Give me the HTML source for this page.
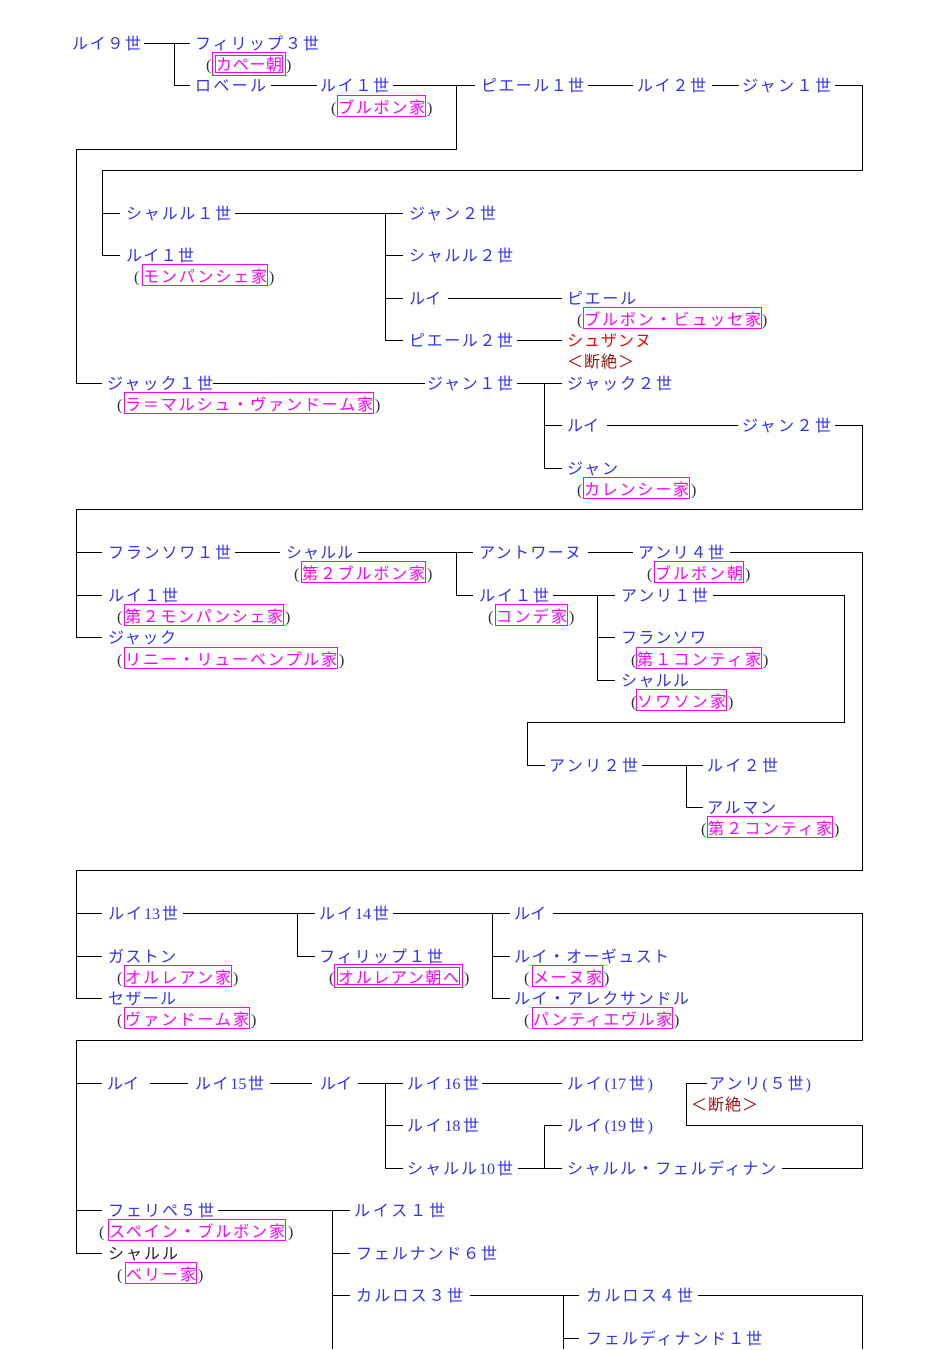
<!DOCTYPE html>
<html><head><meta charset="utf-8">
<style>
html,body{margin:0;padding:0;background:#fff;}
body{width:925px;height:1349px;position:relative;overflow:hidden;}
svg{position:absolute;left:0;top:0;}
.t{position:absolute;white-space:nowrap;font-family:"Liberation Serif","Noto Sans CJK JP",sans-serif;font-size:16px;line-height:20px;height:20px;text-align:justify;text-align-last:justify;color:#3232f0;margin-top:1px;}
.m{color:#ff00ff;}
.r{color:#ff0000;}
.d{color:#991111;}
.k{color:#222;}
.p{position:absolute;white-space:nowrap;font-family:"Liberation Serif",serif;font-size:16px;line-height:20px;color:#333;margin-top:1px;}
.b{position:absolute;box-sizing:border-box;height:22px;border:1px solid #ff00ff;}
.b2{position:absolute;box-sizing:border-box;height:24px;border:1px solid #ff00ff;padding:2px;}
.b2 div{width:100%;height:100%;box-sizing:border-box;border:1px solid #ff00ff;}
</style></head><body>
<svg width="925" height="1349" viewBox="0 0 925 1349" shape-rendering="crispEdges">
<path fill="none" stroke="#000" stroke-width="1" d="
M144 43.5H190 M174.5 43V86 M174 85.5H190 M271 85.5H317 M393 85.5H475 M456.5 85V150 M76 149.5H457
M588 85.5H633 M712 85.5H739 M835 85.5H863 M862.5 85V171 M102 170.5H863 M102.5 170V256
M102 213.5H120 M102 255.5H120 M76.5 149V384 M76 383.5H102
M235 213.5H403 M385.5 213V341 M385 255.5H403 M385 298.5H403 M385 340.5H403
M448 298.5H562 M517 340.5H562 M213 383.5H425 M517 383.5H562 M544.5 383V469
M544 425.5H562 M544 468.5H562 M607 425.5H738 M835 425.5H863 M862.5 425V510 M76 509.5H863
M76.5 509V638 M76 552.5H102 M76 595.5H102 M76 637.5H102 M235 552.5H280 M358 552.5H473
M456.5 552V596 M456 595.5H473 M588 552.5H633 M730 552.5H863 M862.5 552V871
M553 595.5H615 M597.5 595V681 M597 637.5H615 M597 680.5H615 M713 595.5H844 M844.5 595V723
M527 722.5H845 M527.5 722V766 M527 765.5H545 M642 765.5H703 M686.5 765V808 M686 807.5H703
M76 870.5H863
M76.5 870V999 M76 913.5H102 M76 956.5H102 M76 998.5H102 M183 913.5H315 M297.5 913V957
M297 956.5H315 M393 913.5H510 M492.5 913V999 M492 956.5H510 M492 998.5H510 M553 913.5H863
M862.5 913V1041 M76 1040.5H863
M76.5 1040V1254 M76 1083.5H102 M76 1210.5H102 M76 1253.5H102 M150 1083.5H188 M270 1083.5H312
M358 1083.5H403 M385.5 1083V1169 M385 1125.5H403 M385 1168.5H403 M482 1083.5H562
M686 1083.5H707 M686.5 1083V1126 M686 1125.5H863 M862.5 1125V1169 M782 1168.5H863
M518 1168.5H562 M544.5 1125V1169 M544 1125.5H562
M218 1210.5H333 M332.5 1210V1349 M332 1210.5H350 M332 1253.5H350 M332 1295.5H350
M470 1295.5H579 M563.5 1295V1349 M563 1338.5H579 M698 1295.5H863 M862.5 1295V1349"/>
</svg>

<!-- blue names -->
<div class="t" style="left:72px;top:34px;width:69px">ルイ９世</div>
<div class="t" style="left:195px;top:34px;width:124px">フィリップ３世</div>
<div class="t" style="left:195px;top:76px;width:71px">ロベール</div>
<div class="t" style="left:320px;top:76px;width:69px">ルイ１世</div>
<div class="t" style="left:481px;top:76px;width:103px">ピエール１世</div>
<div class="t" style="left:637px;top:76px;width:69px">ルイ２世</div>
<div class="t" style="left:742px;top:76px;width:89px">ジャン１世</div>

<div class="t" style="left:126px;top:204px;width:105px">シャルル１世</div>
<div class="t" style="left:126px;top:246px;width:68px">ルイ１世</div>
<div class="t" style="left:409px;top:204px;width:87px">ジャン２世</div>
<div class="t" style="left:409px;top:246px;width:104px">シャルル２世</div>
<div class="t" style="left:409px;top:289px;width:32px">ルイ</div>
<div class="t" style="left:567px;top:289px;width:69px">ピエール</div>
<div class="t" style="left:409px;top:331px;width:104px">ピエール２世</div>
<div class="t r" style="left:567px;top:331px;width:84px">シュザンヌ</div>
<div class="t d" style="left:567px;top:352px;width:67px">＜断絶＞</div>
<div class="t" style="left:107px;top:374px;width:106px">ジャック１世</div>
<div class="t" style="left:427px;top:374px;width:86px">ジャン１世</div>
<div class="t" style="left:567px;top:374px;width:105px">ジャック２世</div>
<div class="t" style="left:567px;top:416px;width:32px">ルイ</div>
<div class="t" style="left:742px;top:416px;width:89px">ジャン２世</div>
<div class="t" style="left:567px;top:459px;width:51px">ジャン</div>

<div class="t" style="left:108px;top:543px;width:123px">フランソワ１世</div>
<div class="t" style="left:286px;top:543px;width:67px">シャルル</div>
<div class="t" style="left:108px;top:586px;width:70px">ルイ１世</div>
<div class="t" style="left:108px;top:628px;width:68px">ジャック</div>
<div class="t" style="left:479px;top:543px;width:102px">アントワーヌ</div>
<div class="t" style="left:638px;top:543px;width:86px">アンリ４世</div>
<div class="t" style="left:479px;top:586px;width:70px">ルイ１世</div>
<div class="t" style="left:621px;top:586px;width:87px">アンリ１世</div>
<div class="t" style="left:621px;top:628px;width:85px">フランソワ</div>
<div class="t" style="left:621px;top:671px;width:68px">シャルル</div>
<div class="t" style="left:549px;top:756px;width:89px">アンリ２世</div>
<div class="t" style="left:707px;top:756px;width:71px">ルイ２世</div>
<div class="t" style="left:707px;top:798px;width:69px">アルマン</div>

<div class="t" style="left:108px;top:904px;width:70px">ルイ13世</div>
<div class="t" style="left:319px;top:904px;width:70px">ルイ14世</div>
<div class="t" style="left:108px;top:947px;width:68px">ガストン</div>
<div class="t" style="left:108px;top:989px;width:68px">セザール</div>
<div class="t" style="left:319px;top:947px;width:124px">フィリップ１世</div>
<div class="t" style="left:514px;top:904px;width:32px">ルイ</div>
<div class="t" style="left:514px;top:947px;width:155px">ルイ・オーギュスト</div>
<div class="t" style="left:514px;top:989px;width:175px">ルイ・アレクサンドル</div>

<div class="t" style="left:107px;top:1074px;width:32px">ルイ</div>
<div class="t" style="left:195px;top:1074px;width:69px">ルイ15世</div>
<div class="t" style="left:320px;top:1074px;width:32px">ルイ</div>
<div class="t" style="left:407px;top:1074px;width:72px">ルイ16世</div>
<div class="t" style="left:567px;top:1074px;width:86px">ルイ(17世)</div>
<div class="t" style="left:709px;top:1074px;width:102px">アンリ(５世)</div>
<div class="t d" style="left:691px;top:1095px;width:67px">＜断絶＞</div>
<div class="t" style="left:407px;top:1116px;width:72px">ルイ18世</div>
<div class="t" style="left:407px;top:1159px;width:106px">シャルル10世</div>
<div class="t" style="left:567px;top:1116px;width:86px">ルイ(19世)</div>
<div class="t" style="left:567px;top:1159px;width:209px">シャルル・フェルディナン</div>
<div class="t" style="left:108px;top:1201px;width:106px">フェリペ５世</div>
<div class="t k" style="left:108px;top:1244px;width:70px">シャルル</div>
<div class="t" style="left:354px;top:1201px;width:91px">ルイス１世</div>
<div class="t" style="left:356px;top:1244px;width:141px">フェルナンド６世</div>
<div class="t" style="left:356px;top:1286px;width:107px">カルロス３世</div>
<div class="t" style="left:586px;top:1286px;width:107px">カルロス４世</div>
<div class="t" style="left:586px;top:1329px;width:176px">フェルディナンド１世</div>

<!-- magenta houses -->
<div class="p" style="left:206px;top:55px">(</div><div class="b2" style="left:212px;top:52px;width:74px"><div></div></div><div class="t m" style="left:216px;top:55px;width:66px">カペー朝</div><div class="p" style="left:286px;top:55px">)</div>

<div class="p" style="left:331px;top:98px">(</div><div class="b" style="left:337px;top:95px;width:89px"></div><div class="t m" style="left:338px;top:98px;width:87px">ブルボン家</div><div class="p" style="left:427px;top:98px">)</div>

<div class="p" style="left:134px;top:267px">(</div><div class="b" style="left:142px;top:264px;width:126px"></div><div class="t m" style="left:143px;top:267px;width:124px">モンパンシェ家</div><div class="p" style="left:269px;top:267px">)</div>

<div class="p" style="left:577px;top:310px">(</div><div class="b" style="left:583px;top:307px;width:179px"></div><div class="t m" style="left:584px;top:310px;width:177px">ブルボン・ビュッセ家</div><div class="p" style="left:762px;top:310px">)</div>

<div class="p" style="left:117px;top:395px">(</div><div class="b" style="left:124px;top:392px;width:250px"></div><div class="t m" style="left:125px;top:395px;width:248px">ラ＝マルシュ・ヴァンドーム家</div><div class="p" style="left:375px;top:395px">)</div>

<div class="p" style="left:577px;top:480px">(</div><div class="b" style="left:583px;top:477px;width:107px"></div><div class="t m" style="left:584px;top:480px;width:105px">カレンシー家</div><div class="p" style="left:691px;top:480px">)</div>

<div class="p" style="left:294px;top:564px">(</div><div class="b" style="left:301px;top:561px;width:125px"></div><div class="t m" style="left:302px;top:564px;width:123px">第２ブルボン家</div><div class="p" style="left:427px;top:564px">)</div>

<div class="p" style="left:117px;top:607px">(</div><div class="b" style="left:124px;top:604px;width:160px"></div><div class="t m" style="left:125px;top:607px;width:158px">第２モンパンシェ家</div><div class="p" style="left:285px;top:607px">)</div>

<div class="p" style="left:117px;top:650px">(</div><div class="b" style="left:124px;top:647px;width:214px"></div><div class="t m" style="left:125px;top:650px;width:212px">リニー・リューベンプル家</div><div class="p" style="left:339px;top:650px">)</div>

<div class="p" style="left:647px;top:564px">(</div><div class="b" style="left:654px;top:561px;width:90px"></div><div class="t m" style="left:655px;top:564px;width:88px">ブルボン朝</div><div class="p" style="left:745px;top:564px">)</div>

<div class="p" style="left:488px;top:607px">(</div><div class="b" style="left:495px;top:604px;width:73px"></div><div class="t m" style="left:496px;top:607px;width:71px">コンデ家</div><div class="p" style="left:569px;top:607px">)</div>

<div class="p" style="left:631px;top:650px">(</div><div class="b" style="left:636px;top:647px;width:126px"></div><div class="t m" style="left:637px;top:650px;width:124px">第１コンティ家</div><div class="p" style="left:763px;top:650px">)</div>

<div class="p" style="left:631px;top:692px">(</div><div class="b" style="left:636px;top:689px;width:91px"></div><div class="t m" style="left:637px;top:692px;width:89px">ソワソン家</div><div class="p" style="left:728px;top:692px">)</div>

<div class="p" style="left:701px;top:819px">(</div><div class="b" style="left:707px;top:816px;width:126px"></div><div class="t m" style="left:708px;top:819px;width:124px">第２コンティ家</div><div class="p" style="left:834px;top:819px">)</div>

<div class="p" style="left:117px;top:968px">(</div><div class="b" style="left:124px;top:965px;width:108px"></div><div class="t m" style="left:125px;top:968px;width:106px">オルレアン家</div><div class="p" style="left:233px;top:968px">)</div>

<div class="p" style="left:117px;top:1010px">(</div><div class="b" style="left:124px;top:1007px;width:126px"></div><div class="t m" style="left:125px;top:1010px;width:124px">ヴァンドーム家</div><div class="p" style="left:251px;top:1010px">)</div>

<div class="p" style="left:329px;top:968px">(</div><div class="b2" style="left:334px;top:964px;width:129px"><div></div></div><div class="t m" style="left:338px;top:968px;width:121px">オルレアン朝へ</div><div class="p" style="left:464px;top:968px">)</div>

<div class="p" style="left:524px;top:968px">(</div><div class="b" style="left:532px;top:965px;width:71px"></div><div class="t m" style="left:533px;top:968px;width:69px">メーヌ家</div><div class="p" style="left:604px;top:968px">)</div>

<div class="p" style="left:524px;top:1010px">(</div><div class="b" style="left:532px;top:1007px;width:141px"></div><div class="t m" style="left:533px;top:1010px;width:139px">パンティエヴル家</div><div class="p" style="left:674px;top:1010px">)</div>

<div class="p" style="left:99px;top:1222px">(</div><div class="b" style="left:108px;top:1219px;width:178px"></div><div class="t m" style="left:109px;top:1222px;width:176px">スペイン・ブルボン家</div><div class="p" style="left:288px;top:1222px">)</div>

<div class="p" style="left:117px;top:1265px">(</div><div class="b" style="left:125px;top:1262px;width:72px"></div><div class="t m" style="left:126px;top:1265px;width:70px">ベリー家</div><div class="p" style="left:198px;top:1265px">)</div>

</body></html>
